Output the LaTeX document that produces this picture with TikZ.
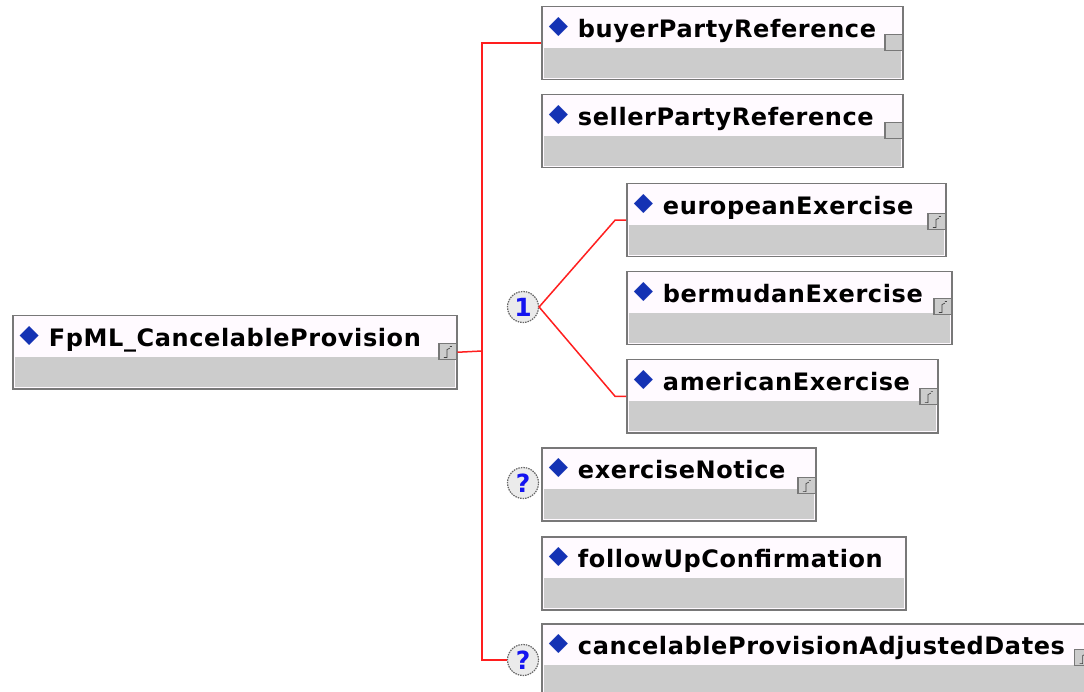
\documentclass[tikz,border=0pt]{standalone}
\usepackage{fontspec}
\setmainfont{DejaVu Sans}
\newfontfamily\elemfont{DejaVu Sans}[LetterSpace=2.5]
\usetikzlibrary{calc,positioning}
\definecolor{wirered}{RGB}{255,30,30}
\definecolor{boxline}{RGB}{120,120,120}
\definecolor{boxface}{RGB}{255,250,255}
\definecolor{boxgray}{RGB}{204,204,204}
\definecolor{dblue}{RGB}{20,50,180}
\definecolor{numblue}{RGB}{20,20,240}
\newcommand\elem[1]{\raisebox{4pt}{\fontsize{25}{25}\selectfont\textcolor{dblue}{◆}}\hspace{10pt}#1}

\begin{document}
\begin{tikzpicture}[
  x=1pt, y=-1pt,
  elembox/.style={draw=boxline, line width=1.5pt, fill=boxface, anchor=north west,
    inner xsep=7pt, inner ysep=0pt, align=left, text height=31pt, text depth=42pt,
    font=\elemfont\bfseries\fontsize{24}{28}\selectfont,
    path picture={\fill[boxgray] ([shift={(2pt,2pt)}]path picture bounding box.south west)
      rectangle ([shift={(-2pt,-41pt)}]path picture bounding box.north east);}},
  ext/.style={draw=boxline, line width=1.2pt, fill=boxgray, minimum width=18pt,
    minimum height=16pt, inner sep=0pt, anchor=north east},
  extc/.style={ext, path picture={\draw[black!75, line width=0.7pt]
      ([shift={(-1pt,5pt)}]path picture bounding box.south) -- ++(0pt,-3pt) -- ++(-3pt,0pt)
      ([shift={(-1pt,5pt)}]path picture bounding box.south) -- ++(0pt,5pt) -- ++(3pt,1.5pt)
      ([shift={(2pt,-3pt)}]path picture bounding box.north) -- ++(2pt,0pt);}},
  card/.style={circle, draw=black!60, fill=black!8, line width=1.2pt, dash pattern=on 1.5pt off 1pt,
    minimum size=31pt, inner sep=0pt, text=numblue, font=\bfseries\fontsize{25}{25}\selectfont},
  wire/.style={draw=wirered, line width=1.5pt}
]
\useasboundingbox (0,0) rectangle (1084,692);

\node[elembox, text width=430pt] (root) at (12,315) {\elem{FpML\_CancelableProvision}};
\node[elembox, text width=347pt] (buyer) at (541,6) {\elem{buyerPartyReference}};
\node[elembox, text width=347pt] (seller) at (541,94) {\elem{sellerPartyReference}};
\node[elembox, text width=305pt] (euro) at (626,183) {\elem{europeanExercise}};
\node[elembox, text width=311pt] (berm) at (626,271) {\elem{bermudanExercise}};
\node[elembox, text width=297pt] (amer) at (626,359) {\elem{americanExercise}};
\node[elembox, text width=260pt] (notice) at (541,447) {\elem{exerciseNotice}};
\node[elembox, text width=350pt] (followup) at (541,536) {\elem{followUpConfirmation}};
\node[elembox, text width=560pt] (adjdates) at (541,623) {\elem{cancelableProvisionAdjustedDates}};

\node[extc] (root-x) at ([yshift=-28pt]root.north east) {};
\node[ext] (buyer-x) at ([yshift=-28pt]buyer.north east) {};
\node[ext] (seller-x) at ([yshift=-28pt]seller.north east) {};
\node[extc] (euro-x) at ([yshift=-30pt]euro.north east) {};
\node[extc] (berm-x) at ([yshift=-27pt]berm.north east) {};
\node[extc] (amer-x) at ([yshift=-29pt]amer.north east) {};
\node[extc] (notice-x) at ([yshift=-30pt]notice.north east) {};
\node[extc, anchor=north west] (adjdates-x) at (1074,649) {};

\node[card] (choice) at (523,307) {1};
\node[card] (opt1) at (523,483) {?};
\node[card] (opt2) at (523,660) {?};

\coordinate (spine) at (482,351);
\draw[wire] (root.east) -- (spine);
\draw[wire] (buyer.west) -| (spine) |- (opt2.west);
\draw[wire] (euro.west) -- ++(-11,0) -- (choice.east) -- ($(amer.west)+(-11,0)$) -- (amer.west);
\end{tikzpicture}
\end{document}
